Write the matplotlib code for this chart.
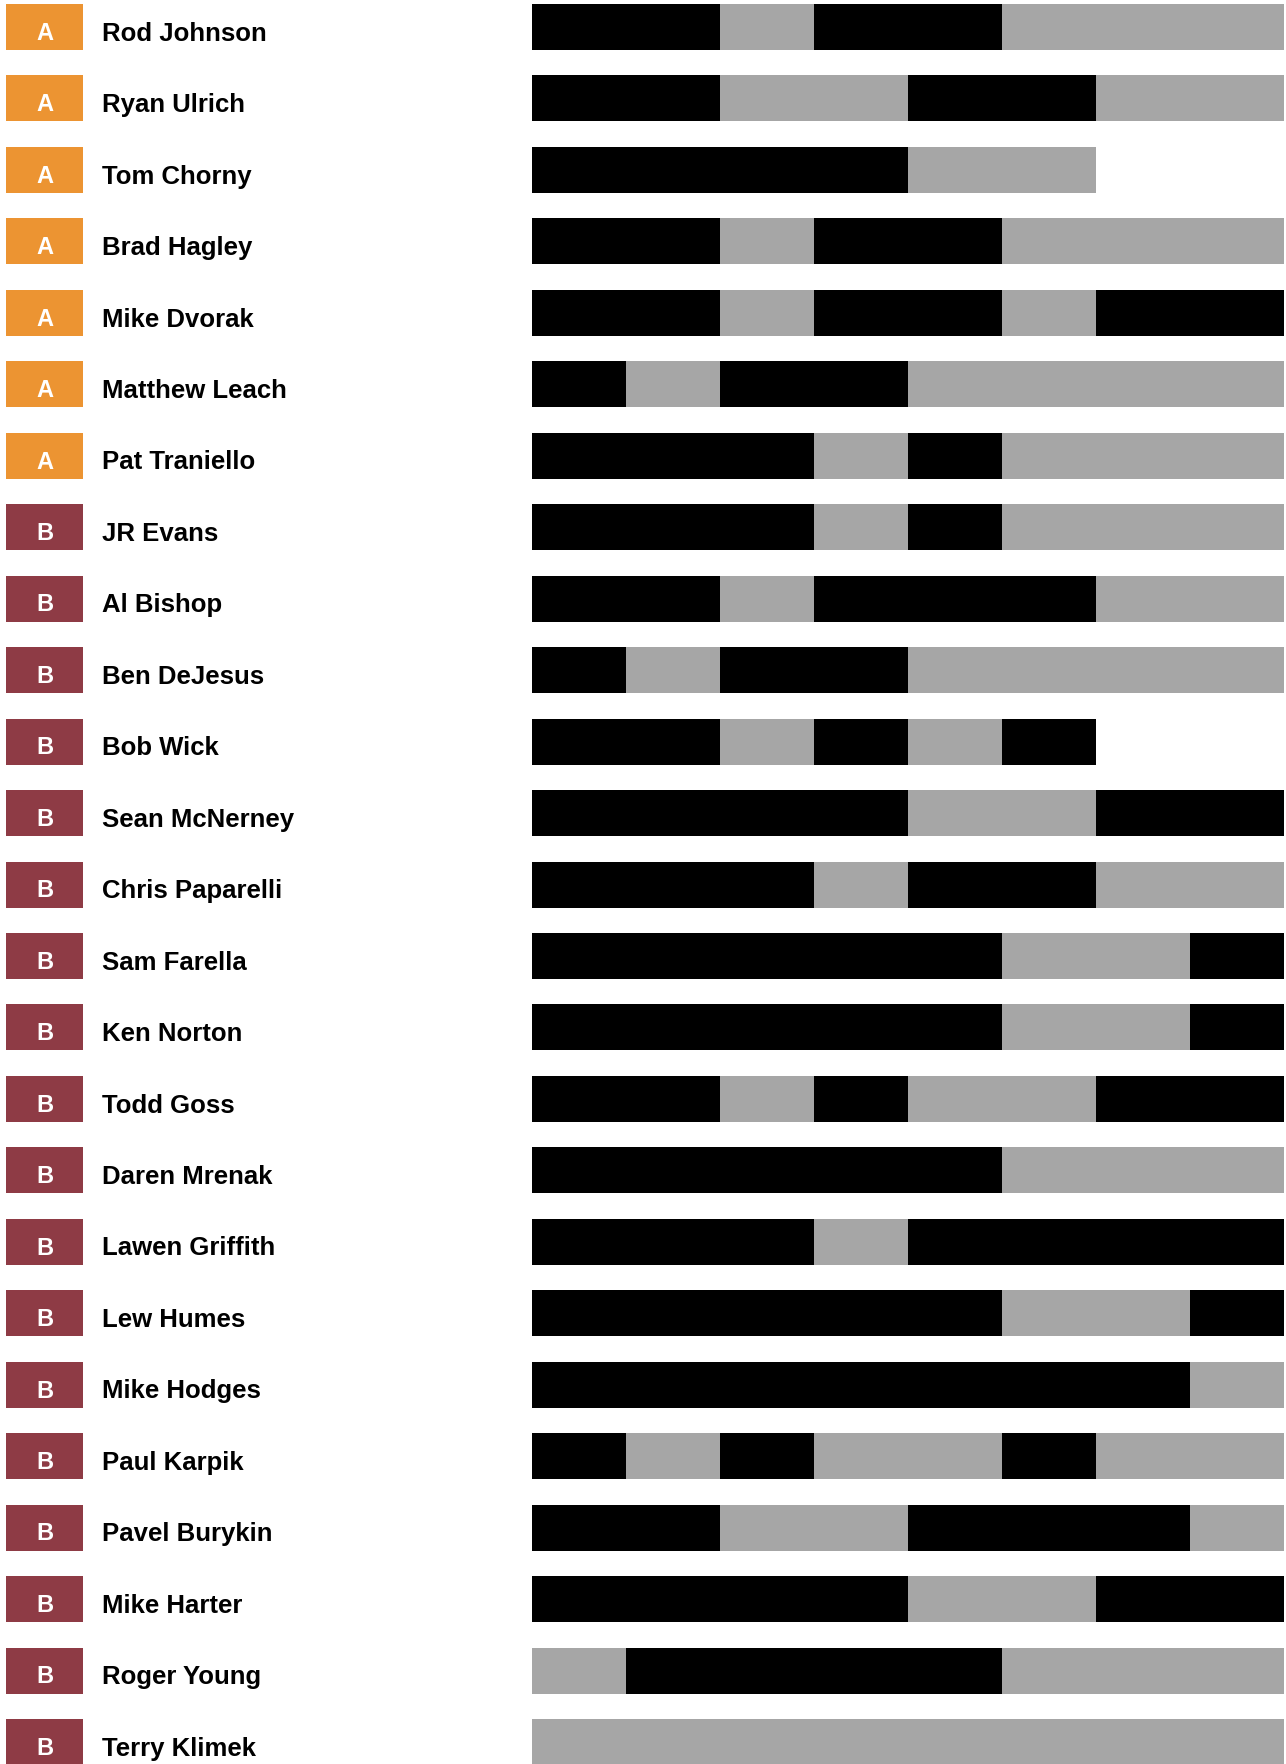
import matplotlib
matplotlib.use("Agg")
import matplotlib.pyplot as plt
from matplotlib.patches import Rectangle

plt.rcParams['font.family'] = ['Liberation Sans', 'DejaVu Sans']

names = ["Rod Johnson", "Ryan Ulrich", "Tom Chorny", "Brad Hagley", "Mike Dvorak",
         "Matthew Leach", "Pat Traniello", "JR Evans", "Al Bishop", "Ben DeJesus",
         "Bob Wick", "Sean McNerney", "Chris Paparelli", "Sam Farella", "Ken Norton",
         "Todd Goss", "Daren Mrenak", "Lawen Griffith", "Lew Humes", "Mike Hodges",
         "Paul Karpik", "Pavel Burykin", "Mike Harter", "Roger Young", "Terry Klimek"]
groups = ["A"] * 7 + ["B"] * 18
# W = black segment, L = gray segment, one character per slot
results = ["WWLWWLLL", "WWLLWWLL", "WWWWLL", "WWLWWLLL", "WWLWWLWW",
           "WLWWLLLL", "WWWLWLLL", "WWWLWLLL", "WWLWWWLL", "WLWWLLLL",
           "WWLWLW", "WWWWLLWW", "WWWLWWLL", "WWWWWLLW", "WWWWWLLW",
           "WWLWLLWW", "WWWWWLLL", "WWWLWWWW", "WWWWWLLW", "WWWWWWWL",
           "WLWLLWLL", "WWLLWWWL", "WWWWLLWW", "LWWWWLLL", "LLLLLLLL"]

group_colors = {"A": "#EC9432", "B": "#8E3B45"}
seg_colors = {"W": "#000000", "L": "#A6A6A6"}

W, H = 1286, 1765
fig = plt.figure(figsize=(W / 100, H / 100), dpi=100)

step = 1715 / 24.0      # px between rows
c0 = 28.0               # px center of first row
bh = 46 / step          # bar height in row units
ylim = ((H - c0) / step, (0 - c0) / step)

# bars axes
bx0, bx1 = 532, 1284
axb = fig.add_axes([bx0 / W, 0, (bx1 - bx0) / W, 1])
axb.set_xlim(0, 8)
axb.set_ylim(*ylim)
axb.axis("off")
for i, res in enumerate(results):
    for j, ch in enumerate(res):
        axb.barh(i, 1, left=j, height=bh, color=seg_colors[ch], linewidth=0)

# label axes
axl = fig.add_axes([0, 0, bx0 / W, 1])
axl.set_xlim(0, bx0)
axl.set_ylim(*ylim)
axl.axis("off")
for i, (nm, g) in enumerate(zip(names, groups)):
    axl.add_patch(Rectangle((6, i - bh / 2), 77, bh, color=group_colors[g], linewidth=0))
    axl.text(44.5, i + 11.8 / step, g, color="white", fontsize=17, fontweight="bold",
             ha="center", va="baseline")
    axl.text(102, i + 12.7 / step, nm, color="black", fontsize=18.5, fontweight="bold",
             ha="left", va="baseline")

fig.savefig("out.png", dpi=100, facecolor="white")
